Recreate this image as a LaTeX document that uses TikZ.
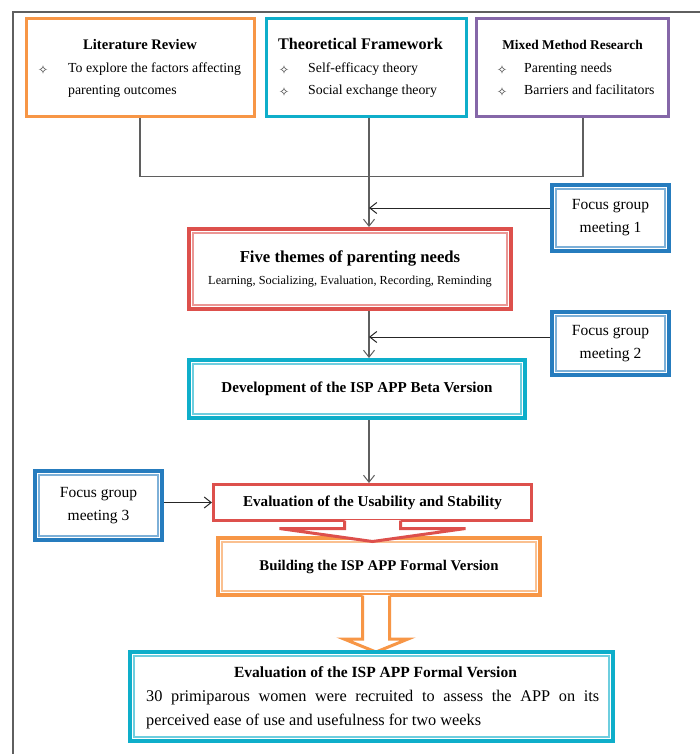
\documentclass[tikz,border=0pt]{standalone}
\usepackage{fontspec}
\setmainfont{Liberation Serif}
\newfontfamily\symf{DejaVu Sans}
\usetikzlibrary{arrows.meta,calc}
\definecolor{cOrange}{RGB}{247,150,70}
\definecolor{cTeal}{RGB}{14,174,202}
\definecolor{cPurple}{RGB}{133,103,168}
\definecolor{cRed}{RGB}{221,80,76}
\definecolor{cBlue}{RGB}{38,124,190}
\definecolor{cLine}{RGB}{95,95,95}
\newcommand{\setfs}[2]{\fontsize{#1}{#2}\selectfont}
\tikzset{
  sbox/.style={draw=#1, line width=3pt, fill=white, inner sep=0pt},
  dbox/.style={draw=#1, line width=4pt, fill=white, inner sep=0pt, align=center,
    path picture={\draw[#1!60, line width=1.2pt]
      ([xshift=4pt,yshift=-4pt]path picture bounding box.north west) rectangle
      ([xshift=-4pt,yshift=4pt]path picture bounding box.south east);}},
  txt/.style={inner sep=0pt, anchor=mid west, font=\setfs{13.8}{16}},
  bul/.style={inner sep=0pt, anchor=center, font=\symf\setfs{12.5}{12.5}, text=black!80},
  ttl/.style={inner sep=0pt, anchor=mid, font=\bfseries\setfs{#1}{#1}},
  conn/.style={draw=cLine, line width=1.1pt},
  tipv/.style={-{Straight Barb[length=7pt,width=11pt,line width=1pt]}},
  farr/.style={draw=black!85, line width=1pt, tipv},
  focus/.style={dbox=cBlue, minimum width=117pt, font=\setfs{15.5}{23}},
}
\begin{document}
\begin{tikzpicture}[x=1pt,y=-1pt]
\useasboundingbox (0,0) rectangle (700,754);
\fill[white] (0,0) rectangle (700,754);
% outer frame
\draw[cLine, line width=1.2pt] (13,754) -- (13,12) -- (700,12);

% top boxes
\node[sbox=cOrange, minimum width=228pt, minimum height=98pt] (lit) at (140,68) {};
\node[sbox=cTeal, minimum width=200pt, minimum height=98pt] (theo) at (366,68) {};
\node[sbox=cPurple, minimum width=192pt, minimum height=98pt] (mixed) at (572,68) {};

\node[ttl=14.6] (litT) at (140,47.5) {Literature Review};
\node[bul] (litB1) at (43,70) {✧};
\node[txt] (litL1) at (68,70) {To explore the factors affecting};
\node[txt] (litL2) at (68,92) {parenting outcomes};

\node[ttl=16.2] (theoT) at (360.5,47.5) {Theoretical Framework};
\node[bul] (theoB1) at (284,70) {✧};
\node[bul] (theoB2) at (284,92) {✧};
\node[txt] (theoL1) at (308,70) {Self-efficacy theory};
\node[txt] (theoL2) at (308,92) {Social exchange theory};

\node[ttl=13.4] (mixT) at (572.5,47.5) {Mixed Method Research};
\node[bul] (mixB1) at (502,70) {✧};
\node[bul] (mixB2) at (502,92) {✧};
\node[txt] (mixL1) at (524,70) {Parenting needs};
\node[txt] (mixL2) at (524,92) {Barriers and facilitators};

% spine
\coordinate (spine) at (369,0);
\coordinate (mj) at ($(mixed.south)+(11,0)$);
\draw[conn] (lit.south) -- ++(0,58) -| (mj);

% focus 1 and five themes
\node[focus, minimum height=66pt] (focus1) at (610.5,218) {Focus group\\meeting 1};
\node[dbox=cRed, minimum width=322pt, minimum height=80pt] (five) at (350,269) {};
\node[ttl=16.7] (fiveT) at (350,260.5) {Five themes of parenting needs};
\node[inner sep=0pt, anchor=mid, font=\setfs{12.3}{14}] (fiveS) at (350,282) {Learning, Socializing, Evaluation, Recording, Reminding};

\draw[conn, tipv] (theo.south -| spine) -- (five.north -| spine);
\coordinate (f1a) at ($(focus1.west)+(0,-10)$);
\draw[farr] (f1a) -- (f1a -| spine);

% focus 2 and development
\node[focus, minimum height=63pt] (focus2) at (610.5,343.5) {Focus group\\meeting 2};
\node[dbox=cTeal, minimum width=336pt, minimum height=58pt, font=\bfseries\setfs{15.1}{18}] (dev) at (357,389) {Development of the ISP APP Beta Version};
\draw[conn, tipv] (five.south -| spine) -- (dev.north -| spine);
\coordinate (f2a) at ($(focus2.west)+(0,-6.5)$);
\draw[farr] (f2a) -- (f2a -| spine);

% focus 3 and evaluation
\node[focus, minimum width=127pt, minimum height=69pt] (focus3) at (98.5,505.5) {Focus group\\meeting 3};
\node[sbox=cRed, minimum width=318pt, minimum height=36pt, font=\bfseries\setfs{15.1}{18}] (eval) at (372.5,502.5) {Evaluation of the Usability and Stability};
\draw[conn, tipv] (dev.south -| spine) -- (eval.north -| spine);
\draw[farr] (focus3.east |- eval.west) -- (eval.west);

% building
\node[dbox=cOrange, minimum width=322pt, minimum height=57pt, font=\bfseries\setfs{14.8}{18}] (build) at (379,566.5) {Building the ISP APP Formal Version};

% red block arrow
\fill[white] ($(eval.south)+(-28,-2)$) -- ($(eval.south)+(-28,6.5)$) -- ($(eval.south)+(-93,6.5)$) -- ($(eval.south)+(0,19.5)$) -- ($(eval.south)+(93,6.5)$) -- ($(eval.south)+(28,6.5)$) -- ($(eval.south)+(28,-2)$) -- cycle;
\draw[cRed, line width=3pt, line join=miter] ($(eval.south)+(-28,-1.5)$) -- ($(eval.south)+(-28,6.5)$) -- ($(eval.south)+(-93,6.5)$) -- ($(eval.south)+(0,19.5)$) -- ($(eval.south)+(93,6.5)$) -- ($(eval.south)+(28,6.5)$) -- ($(eval.south)+(28,-1.5)$);

% orange block arrow
\fill[white] ($(build.south)+(-16.5,-2)$) -- ($(build.south)+(-16.5,42)$) -- ($(build.south)+(-35,42)$) -- ($(build.south)+(-3,55)$) -- ($(build.south)+(29,42)$) -- ($(build.south)+(10.5,42)$) -- ($(build.south)+(10.5,-2)$) -- cycle;
\draw[cOrange, line width=3pt, line join=miter] ($(build.south)+(-16.5,-1.5)$) -- ($(build.south)+(-16.5,42)$) -- ($(build.south)+(-35,42)$) -- ($(build.south)+(-3,55)$) -- ($(build.south)+(29,42)$) -- ($(build.south)+(10.5,42)$) -- ($(build.south)+(10.5,-1.5)$);

% final box
\node[dbox=cTeal, minimum width=483pt, minimum height=89pt] (final) at (371.5,696.5) {};
\node[ttl=15.5] (finalT) at (375.5,675) {Evaluation of the ISP APP Formal Version};
\node[txt, font=\setfs{16.3}{20}] (finalL1) at (146,699) {\makebox[453pt][s]{30 primiparous women were recruited to assess the APP on its}};
\node[txt, font=\setfs{16.3}{20}] (finalL2) at (146,723) {perceived ease of use and usefulness for two weeks};
\end{tikzpicture}
\end{document}
